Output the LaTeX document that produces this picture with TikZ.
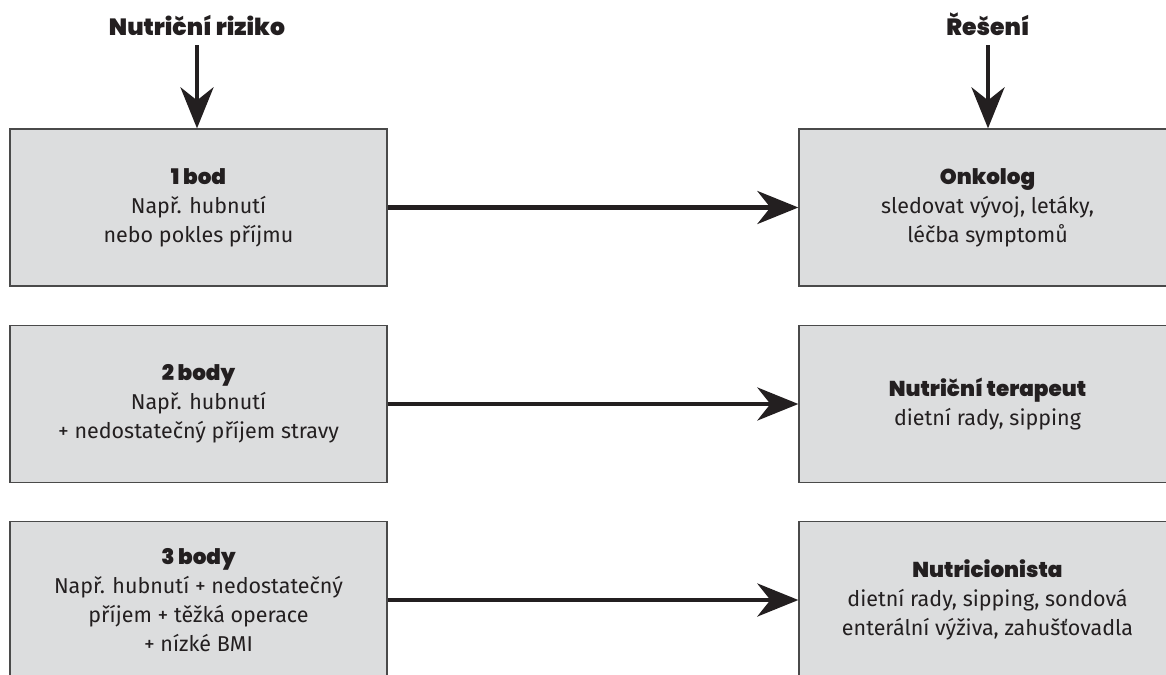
\documentclass[tikz,border=0pt]{standalone}
\usepackage{fontspec}
\setmainfont{Fira Sans}
\newfontfamily\hv{Poppins Black}
\usetikzlibrary{arrows.meta}
\definecolor{boxfill}{HTML}{DCDDDE}
\definecolor{boxline}{HTML}{4A4A4A}
\definecolor{ink}{HTML}{231F20}
\newcommand{\hd}[1]{{\hv #1}}
\begin{document}
\begin{tikzpicture}[x=1pt,y=-1pt,
 box/.style={draw=boxline, line width=1.3pt, fill=boxfill, minimum width=377pt, minimum height=157pt, inner sep=0pt, align=center, text=ink, font=\fontsize{21.5}{29}\selectfont},
 arr/.style={draw=ink, line width=4.5pt, -{Stealth[length=41pt,width=33pt,inset=13pt]}},
 ttl/.style={inner sep=0pt, text=ink, font=\fontsize{23.5}{26}\selectfont\hv, anchor=base}]
\useasboundingbox (0,0) rectangle (1166,674);
\begin{scope}
\clip (0,0) rectangle (1166,674);
\node[box] (l1) at (198.5,207.5) {\hd{1 bod}\\Např. hubnutí\\nebo pokles příjmu};
\node[box] (l2) at (198.5,404) {\hd{2 body}\\Např. hubnutí\\+ nedostatečný příjem stravy};
\node[box] (l3) at (198.5,600) {\hd{3 body}\\Např. hubnutí + nedostatečný\\příjem + těžká operace\\+ nízké BMI};
\node[box] (r1) at (987.5,207.5) {\hd{Onkolog}\\sledovat vývoj, letáky,\\léčba symptomů};
\node[box] (r2) at (987.5,404) {\hd{Nutriční terapeut}\\dietní rady, sipping};
\node[box] (r3) at (987.5,600) {\hd{Nutricionista}\\dietní rady, sipping, sondová\\enterální výživa, zahušťovadla};
\node[ttl] (t1) at (197,36) {Nutriční riziko};
\node[ttl] (t2) at (988,36) {Řešení};
\draw[arr, shorten <=9pt] (t1.south) -- (t1.south |- l1.north);
\draw[arr, shorten <=9pt] (t2.south) -- (t2.south |- r1.north);
\draw[arr] (l1.east) -- (r1.west);
\draw[arr] (l2.east) -- (r2.west);
\draw[arr] (l3.east) -- (r3.west);
\end{scope}
\end{tikzpicture}
\end{document}
